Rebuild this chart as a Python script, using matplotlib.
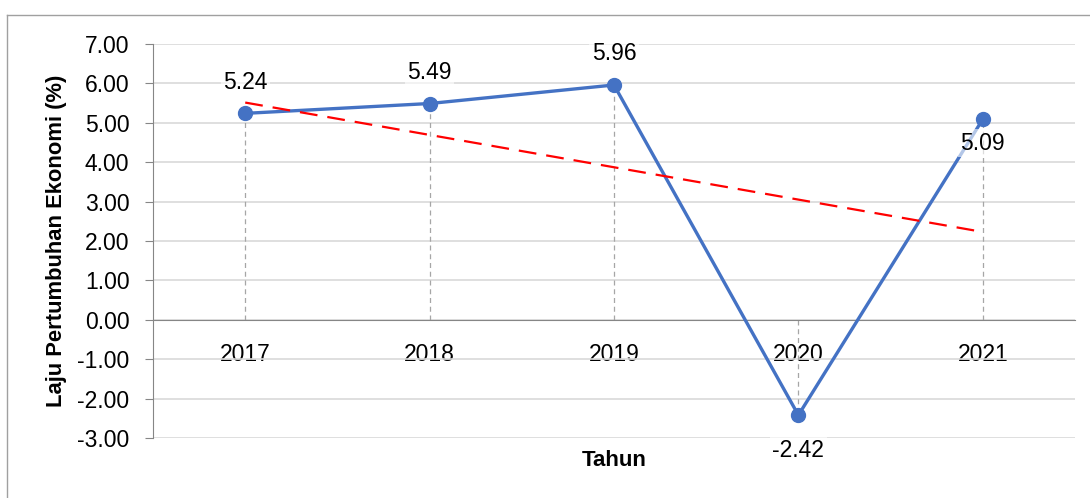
import numpy as np
import matplotlib
matplotlib.use("Agg")
import matplotlib.pyplot as plt
from matplotlib.lines import Line2D
from matplotlib.ticker import FormatStrFormatter

years = ["2017", "2018", "2019", "2020", "2021"]
growth = [5.24, 5.49, 5.96, -2.42, 5.09]
label_pos = ["above", "above", "above", "below", "below"]

plt.rcParams['font.family'] = ['Liberation Sans Narrow', 'Liberation Sans', 'DejaVu Sans']
plt.rcParams['axes.unicode_minus'] = False

blue = "#4472C4"
grey = "#868686"

fig = plt.figure(figsize=(10.9, 4.98), dpi=100)
ax = fig.add_axes([0.1404, 0.1205, 0.8458, 0.7911])

x = np.arange(len(years))

# linear trendline, like Excel
slope, intercept = np.polyfit(x, growth, 1)
trend = slope * x + intercept

# drop lines down/up to zero
for xi, yi in zip(x, growth):
    ax.plot([xi, xi], [0, yi], color="#A6A6A6", lw=0.9, ls=(0, (4, 3)), zorder=2)

ax.plot(x, growth, color=blue, lw=2.4, marker="o", markersize=10, zorder=3)
ax.plot(x, trend, color="#FF0000", lw=1.6, ls=(0, (8, 4.5)), zorder=4)

for xi, yi, pos in zip(x, growth, label_pos):
    off = 31 if pos == "above" else -24
    if yi < 0:
        off = -35
    ax.annotate(f"{yi:.2f}", (xi, yi), xytext=(0, off), textcoords="offset pixels",
                ha="center", va="center", fontsize=16.5, zorder=5,
                bbox=dict(boxstyle="square,pad=0.1", fc="white", ec="none", alpha=0.6))

ax.set_xlim(-0.5, len(years) - 0.5)
ax.set_ylim(-3, 7)
ax.set_yticks(np.arange(-3, 8, 1))
ax.yaxis.set_major_formatter(FormatStrFormatter("%.2f"))
ax.set_xticks(x)
ax.set_xticklabels(years)

ax.grid(axis="y", color="#D9D9D9", lw=1.2)
ax.set_axisbelow(True)

for s in ["top", "right"]:
    ax.spines[s].set_visible(False)
ax.spines["bottom"].set_position(("data", 0))
ax.spines["bottom"].set_color(grey)
ax.spines["left"].set_color(grey)
ax.tick_params(axis="x", length=0, pad=17, labelsize=16.5)
ax.tick_params(axis="y", length=6, color=grey, pad=11, labelsize=16.5)

ax.set_ylabel("Laju Pertumbuhan Ekonomi (%)", fontsize=15.8, fontweight="bold", labelpad=7)
fig.text(0.5634, 1 - 460 / 498, "Tahun", ha="center", va="center",
         fontsize=16, fontweight="bold")

# chart area border
fig.add_artist(Line2D([7 / 1090, 7 / 1090], [0, 1 - 15 / 498], color="#A0A0A0", lw=1))
fig.add_artist(Line2D([7 / 1090, 1], [1 - 15 / 498, 1 - 15 / 498], color="#A0A0A0", lw=1))

fig.savefig("out.png", dpi=100)
